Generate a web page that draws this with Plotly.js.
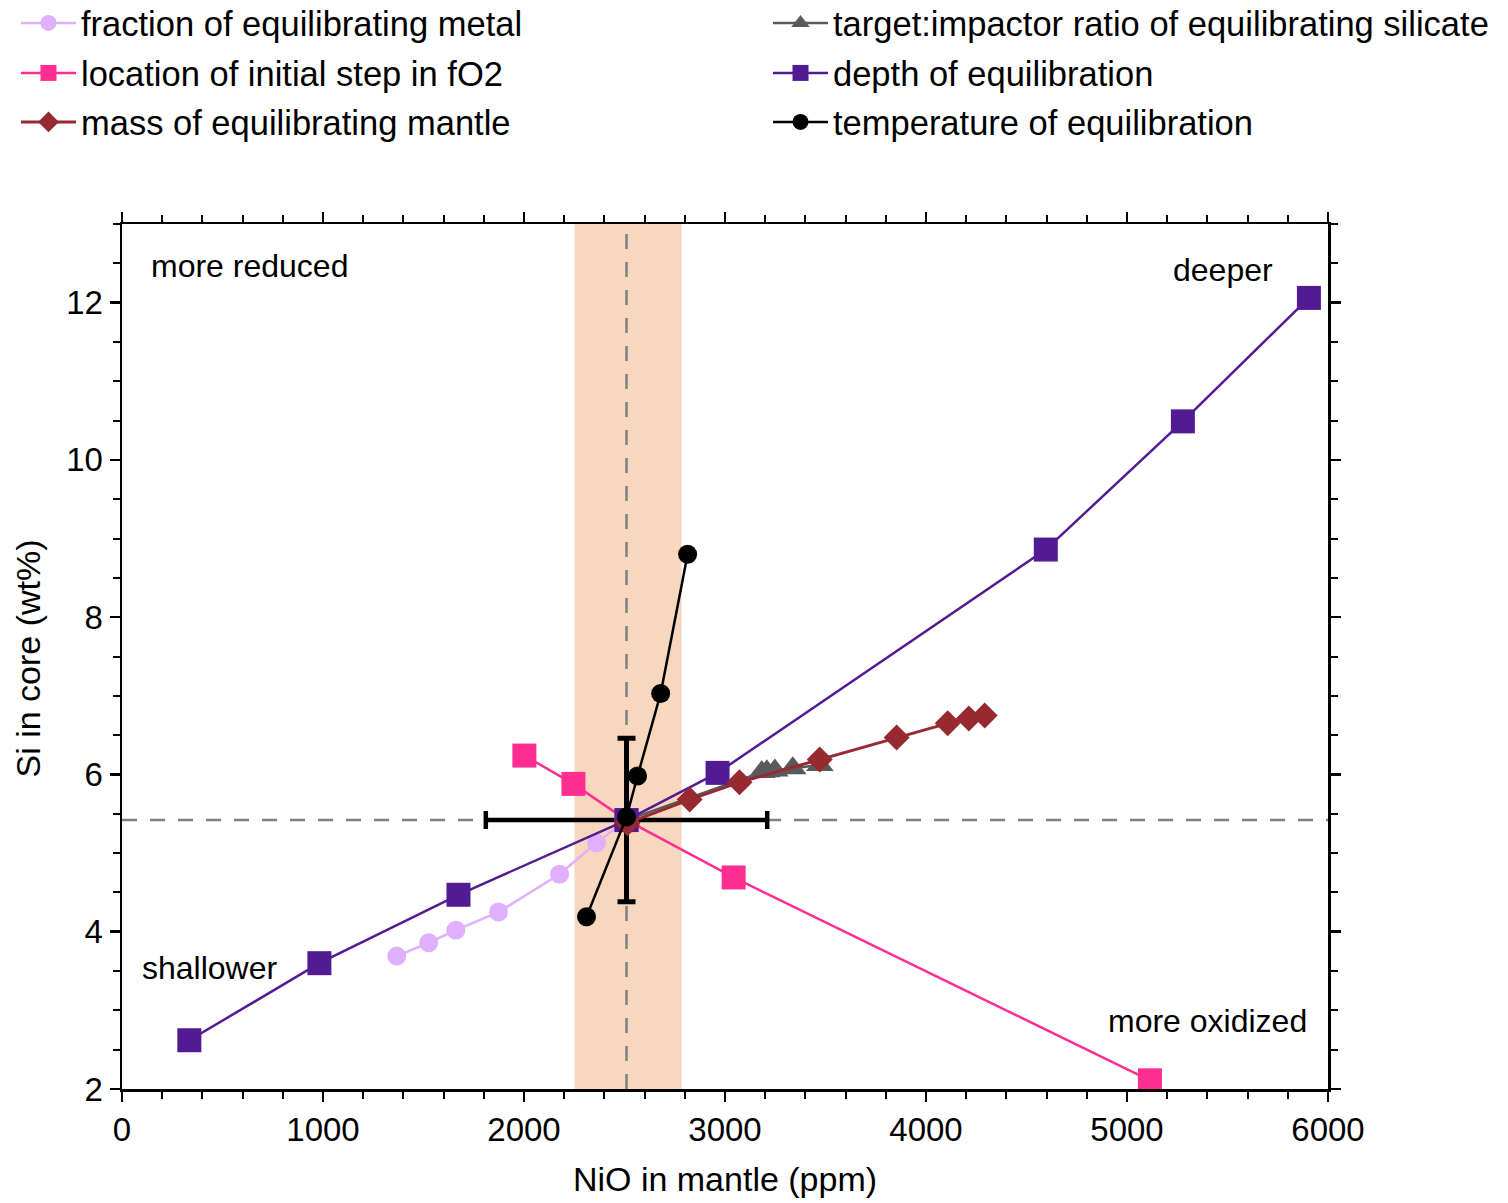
<!DOCTYPE html>
<html>
<head>
<meta charset="utf-8">
<script src="https://cdn.plot.ly/plotly-3.0.1.min.js"></script>
<style>html,body{margin:0;padding:0;background:#fff;} #chart{width:1508px;height:1203px;}</style>
</head>
<body>
<div id="chart"></div>
<script>
// ---- data ----
const fracMetalX = [1367, 1526, 1661, 1873, 2177, 2361, 2510];
const fracMetalY = [3.69, 3.86, 4.02, 4.25, 4.73, 5.13, 5.42];

const fo2StepX = [2002, 2246, 2510, 3043, 5114];
const fo2StepY = [6.24, 5.88, 5.42, 4.69, 2.11];

const mantleMassX = [2515, 2824, 3072, 3471, 3854, 4108, 4213, 4292];
const mantleMassY = [5.38, 5.68, 5.90, 6.19, 6.47, 6.65, 6.71, 6.75];

const ratioX = [2510, 3183, 3208, 3248, 3337, 3472];
const ratioY = [5.42, 6.03, 6.04, 6.05, 6.08, 6.12];

const depthX = [335, 982, 1674, 2510, 2963, 4596, 5278, 5905];
const depthY = [2.62, 3.60, 4.47, 5.42, 6.02, 8.86, 10.49, 12.06];

const tempX = [2311, 2510, 2565, 2680, 2814];
const tempY = [4.19, 5.46, 5.98, 7.03, 8.80];

// reference (Earth) values with uncertainties
const refNiO = 2510, refNiOErr = 700;
const refSi = 5.42, refSiErr = 1.04;
const bandNiO = [2251, 2784];

const names = [
  "fraction of equilibrating metal",
  "location of initial step in fO2",
  "mass of equilibrating mantle",
  "target:impactor ratio of equilibrating silicate",
  "depth of equilibration",
  "temperature of equilibration"
];

const FONT = '"Liberation Sans", Arial, sans-serif';

const traces = [
  {x:[refNiO], y:[refSi], mode:'markers', marker:{size:1, opacity:0}, showlegend:false, hoverinfo:'skip',
   error_x:{type:'data', array:[refNiOErr], color:'#000', thickness:4.5, width:9},
   error_y:{type:'data', array:[refSiErr], color:'#000', thickness:5, width:9}},
  {x:fracMetalX, y:fracMetalY, name:names[0], legend:'legend', mode:'lines+markers',
   line:{color:'#E0B0FF', width:2.5}, marker:{symbol:'circle', size:19, color:'#E0B0FF'}},
  {x:fo2StepX, y:fo2StepY, name:names[1], legend:'legend2', mode:'lines+markers',
   line:{color:'#FF2F92', width:2.5}, marker:{symbol:'square', size:24, color:'#FF2F92'}},
  {x:ratioX, y:ratioY, name:names[3], legend:'legend4', mode:'lines+markers',
   line:{color:'#5A5A5A', width:2.5}, marker:{symbol:'triangle-up', size:24, color:'#5A5A5A'}},
  {x:depthX, y:depthY, name:names[4], legend:'legend5', mode:'lines+markers',
   line:{color:'#531B93', width:2.5}, marker:{symbol:'square', size:24, color:'#531B93'}},
  {x:mantleMassX, y:mantleMassY, name:names[2], legend:'legend3', mode:'lines+markers',
   line:{color:'#962A30', width:3}, marker:{symbol:'diamond', size:20, color:'#962A30'}},
  {x:tempX, y:tempY, name:names[5], legend:'legend6', mode:'lines+markers',
   line:{color:'#000000', width:2.5}, marker:{symbol:'circle', size:19, color:'#000000'}}
];

const axisCommon = {
  showline:true, linecolor:'#000', linewidth:2.5, mirror:'allticks',
  ticks:'outside', ticklen:10, tickwidth:2.5, tickcolor:'#000',
  showgrid:false, zeroline:false,
  tickfont:{family:FONT, size:33, color:'#000'}
};

function legendAt(xpx, ypx) {
  return {x:xpx/1508, y:1 - ypx/1203, xref:'container', yref:'container',
    xanchor:'left', yanchor:'middle', orientation:'v',
    bgcolor:'rgba(0,0,0,0)', font:{family:FONT, size:34.5, color:'#000'}, itemwidth:55};
}

const layout = {
  width:1508, height:1203,
  margin:{l:122, r:180, t:224, b:114, autoexpand:false},
  paper_bgcolor:'#fff', plot_bgcolor:'#fff',
  font:{family:FONT, color:'#000'},
  xaxis: Object.assign({}, axisCommon, {
    range:[0,6000], dtick:1000, tick0:0,
    minor:{dtick:200, ticks:'outside', ticklen:7, tickwidth:2, tickcolor:'#000'},
    title:{text:'NiO in mantle (ppm)', font:{family:FONT, size:34, color:'#000'}, standoff:20}
  }),
  yaxis: Object.assign({}, axisCommon, {
    range:[2,13], dtick:2, tick0:0,
    minor:{dtick:0.5, ticks:'outside', ticklen:7, tickwidth:2, tickcolor:'#000'}
  }),
  xaxis2:{overlaying:'x', anchor:'y', side:'bottom', range:[0,6000], dtick:1000, tick0:0,
    ticks:'inside', ticklen:10, tickwidth:2.5, tickcolor:'#000', mirror:'ticks',
    showline:false, showticklabels:false, showgrid:false, zeroline:false},
  yaxis2:{overlaying:'y', anchor:'x', side:'left', range:[2,13], dtick:2, tick0:0,
    ticks:'inside', ticklen:10, tickwidth:2.5, tickcolor:'#000', mirror:'ticks',
    showline:false, showticklabels:false, showgrid:false, zeroline:false},
  shapes:[
    {type:'rect', xref:'x', yref:'paper', x0:bandNiO[0], x1:bandNiO[1], y0:0, y1:1,
     fillcolor:'#F8D7BF', line:{width:0}, layer:'below'},
    {type:'line', xref:'x', yref:'paper', x0:refNiO, x1:refNiO, y0:0, y1:1,
     line:{color:'#808080', width:2.5, dash:'15px,13px'}, layer:'below'},
    {type:'line', xref:'paper', yref:'y', x0:0, x1:1, y0:refSi, y1:refSi,
     line:{color:'#808080', width:2.5, dash:'15px,13px'}, layer:'below'}
  ],
  annotations:[
    {text:'Si in core (wt%)', textangle:-90, x:(27 - 122)/1206, y:0.5 - 2/865, xref:'paper', yref:'paper',
     xanchor:'center', yanchor:'middle', showarrow:false, font:{family:FONT, size:34, color:'#000'}},
    {text:'more reduced', x:136, y:12.47, xref:'x', yref:'y', xanchor:'left', yanchor:'middle', showarrow:false, font:{family:FONT, size:32, color:'#000'}},
    {text:'deeper', x:5736, y:12.41, xref:'x', yref:'y', xanchor:'right', yanchor:'middle', showarrow:false, font:{family:FONT, size:32, color:'#000'}},
    {text:'shallower', x:91, y:3.54, xref:'x', yref:'y', xanchor:'left', yanchor:'middle', showarrow:false, font:{family:FONT, size:32, color:'#000'}},
    {text:'more oxidized', x:5905, y:2.86, xref:'x', yref:'y', xanchor:'right', yanchor:'middle', showarrow:false, font:{family:FONT, size:32, color:'#000'}}
  ],
  legend: legendAt(16, 23),
  legend2: legendAt(16, 73),
  legend3: legendAt(16, 122),
  legend4: legendAt(768, 23),
  legend5: legendAt(768, 73),
  legend6: legendAt(768, 122)
};

Plotly.newPlot('chart', traces, layout, {displayModeBar:false, staticPlot:true});
</script>
</body>
</html>
